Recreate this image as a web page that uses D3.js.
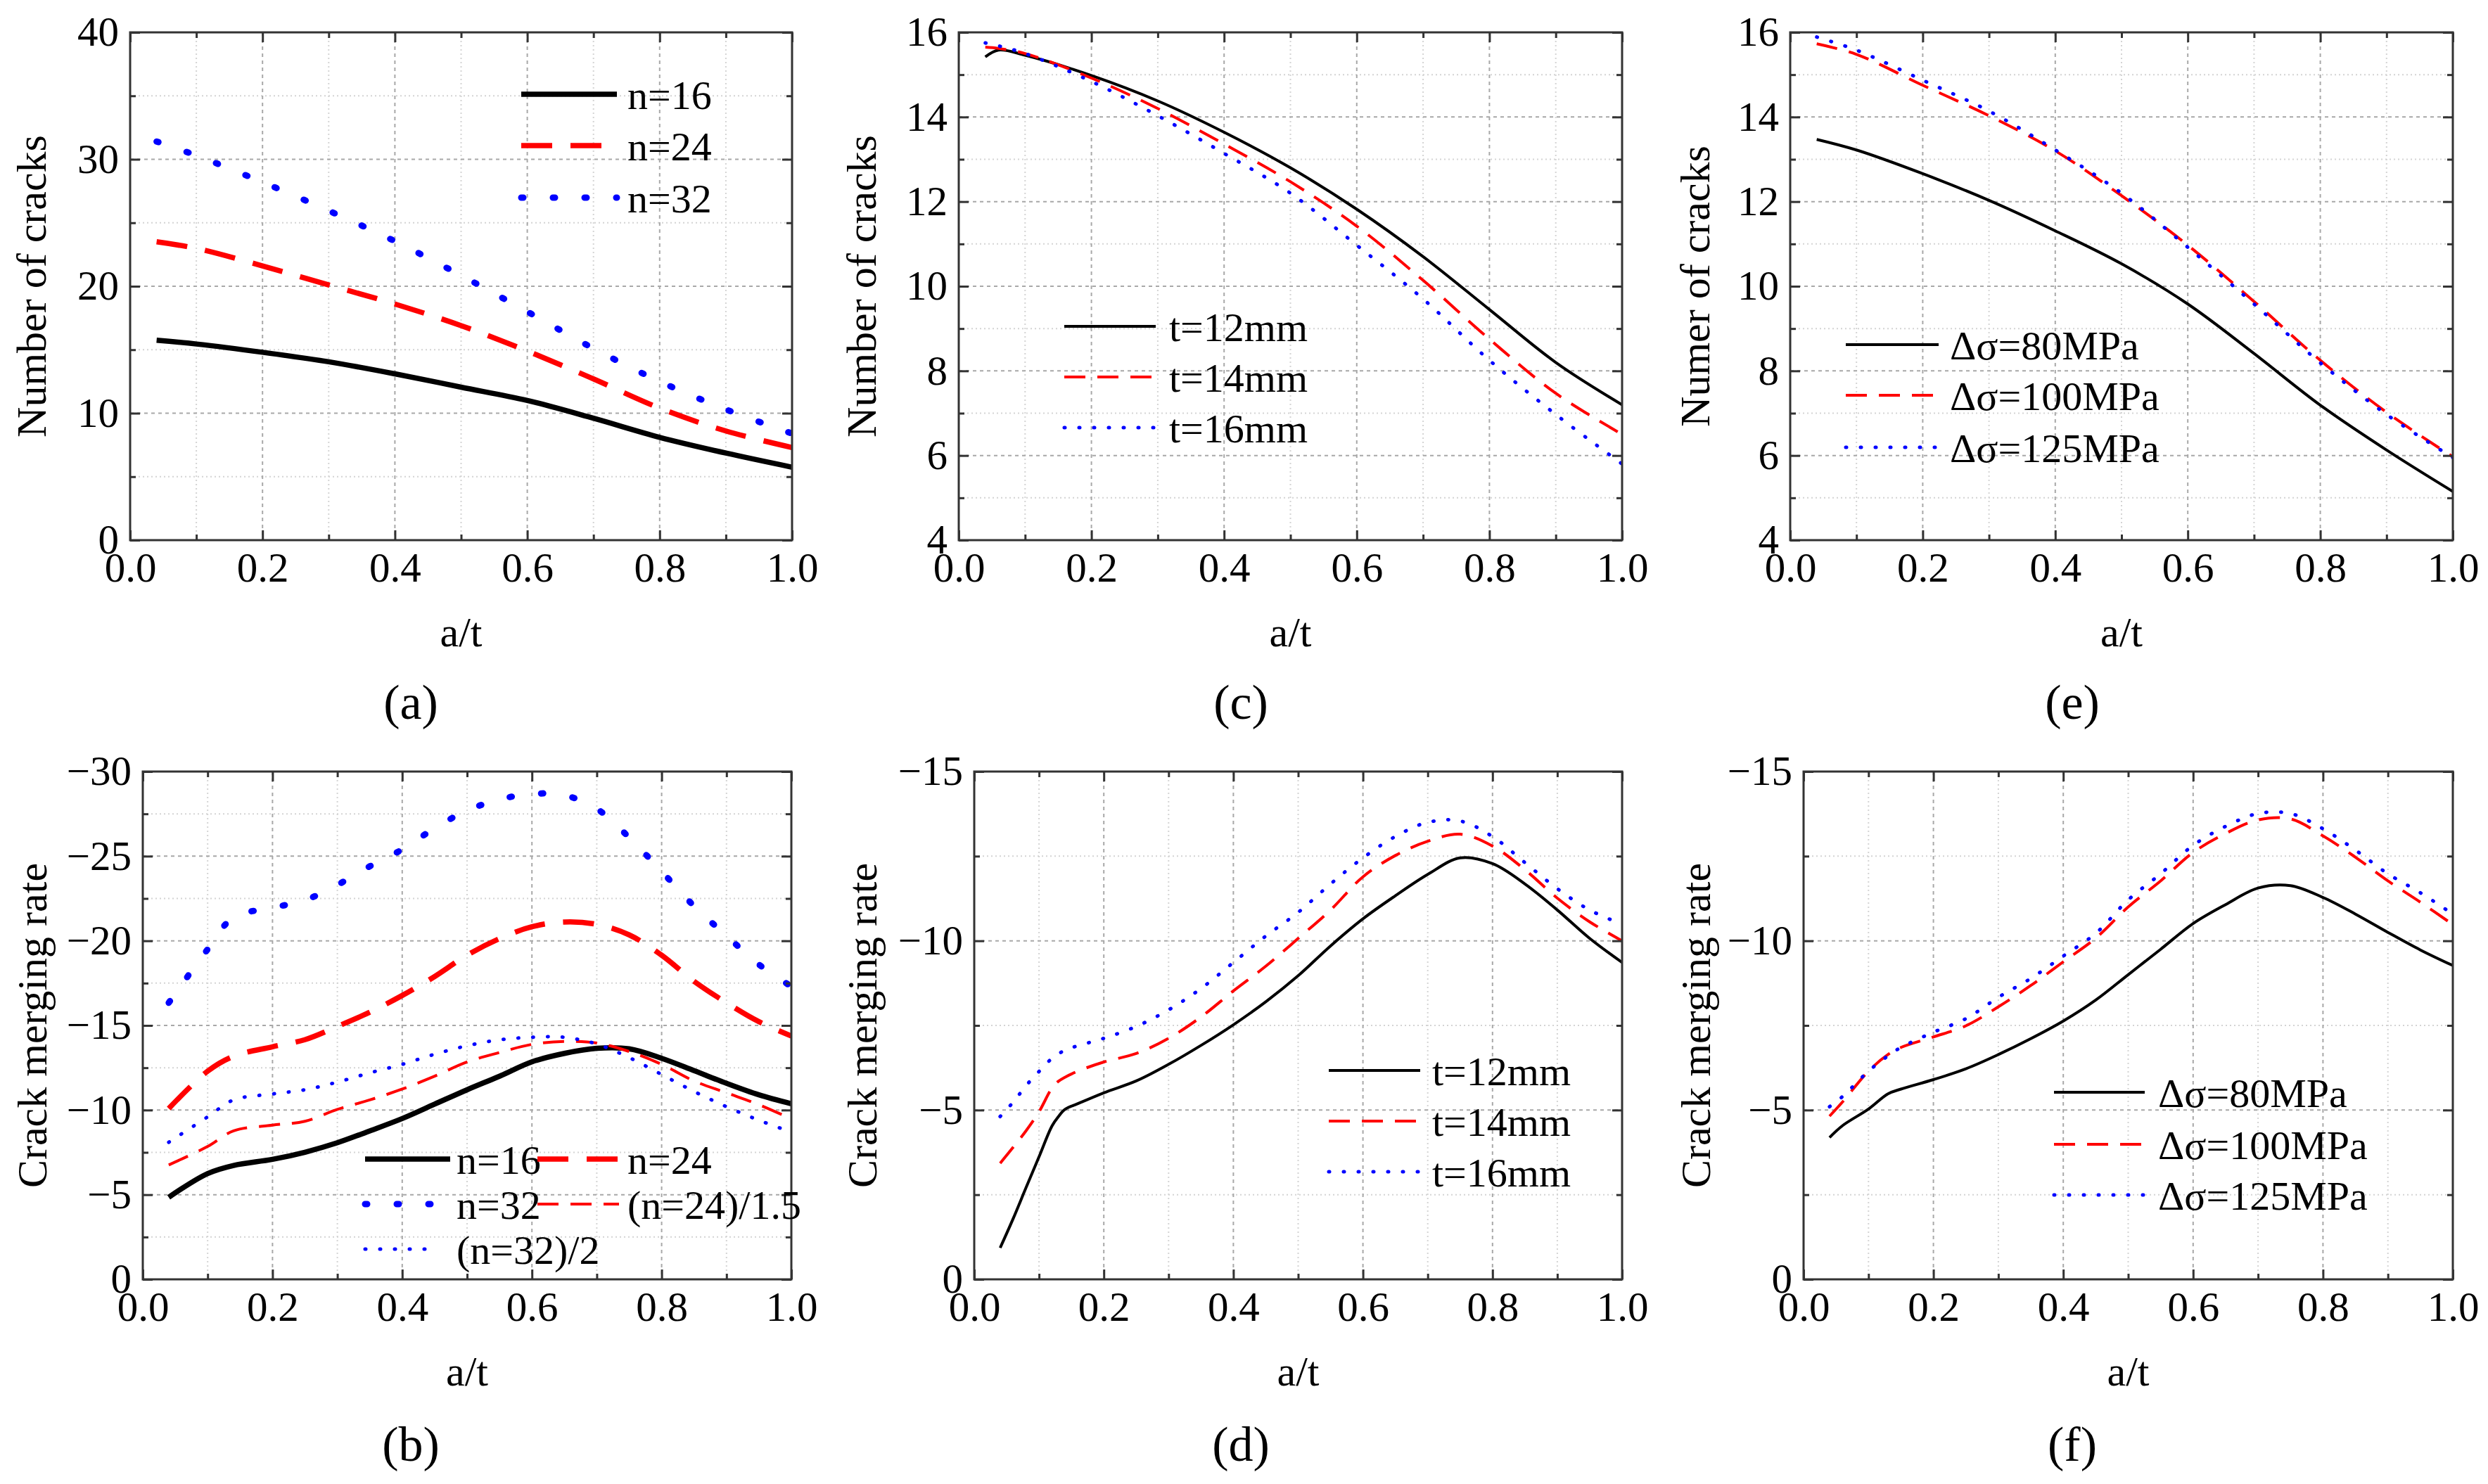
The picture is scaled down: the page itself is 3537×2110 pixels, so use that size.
<!DOCTYPE html>
<html>
<head>
<meta charset="utf-8">
<script src="https://cdn.jsdelivr.net/npm/d3@7"></script>
<style>body{margin:0;background:#fff}</style>
</head>
<body>
<script>
// ---- data ----
// (a) number of cracks vs a/t, different n
const xA = [0.04, 0.1, 0.2, 0.3, 0.4, 0.5, 0.6, 0.7, 0.8, 0.9, 1.0];
const aN16 = [15.75, 15.45, 14.8, 14.05, 13.1, 12.05, 11.0, 9.6, 8.1, 6.86, 5.75];
const aN24 = [23.5, 22.98, 21.6, 20.1, 18.6, 16.9, 14.9, 12.7, 10.4, 8.6, 7.3];
const aN32 = [31.4, 30.3, 28.2, 25.95, 23.55, 20.85, 18.0, 15.1, 12.5, 10.3, 8.4];

// (c) number of cracks, different t
const xC = [0.04, 0.06, 0.1, 0.2, 0.3, 0.4, 0.5, 0.6, 0.7, 0.8, 0.9, 1.0];
const cT12 = [15.42, 15.58, 15.46, 14.98, 14.38, 13.64, 12.8, 11.82, 10.7, 9.45, 8.2, 7.2];
const cT14 = [15.65, 15.62, 15.5, 14.92, 14.2, 13.36, 12.47, 11.42, 10.14, 8.75, 7.47, 6.5];
const cT16 = [15.75, 15.68, 15.5, 14.84, 14.03, 13.14, 12.2, 10.97, 9.7, 8.25, 6.97, 5.8];

// (e) number of cracks, different stress range
const xE = [0.04, 0.1, 0.2, 0.3, 0.4, 0.5, 0.6, 0.7, 0.8, 0.9, 1.0];
const eS80 = [13.47, 13.22, 12.66, 12.03, 11.31, 10.53, 9.58, 8.41, 7.19, 6.13, 5.15];
const eS100 = [15.73, 15.48, 14.75, 14.03, 13.2, 12.14, 10.97, 9.64, 8.25, 7.02, 5.97];
const eS125 = [15.89, 15.58, 14.87, 14.14, 13.22, 12.2, 10.92, 9.58, 8.19, 6.97, 5.95];

// (b) crack merging rate, different n
const xB = [0.04, 0.1, 0.14, 0.2, 0.25, 0.3, 0.35, 0.4, 0.45, 0.5, 0.55, 0.6, 0.65, 0.7, 0.75, 0.8, 0.85, 0.9, 0.95, 1.0];
const bN16 = [-4.85, -6.25, -6.73, -7.09, -7.51, -8.07, -8.77, -9.5, -10.35, -11.2, -12.0, -12.85, -13.35, -13.65, -13.62, -13.06, -12.33, -11.58, -10.9, -10.37];
const bN24 = [-10.09, -12.3, -13.18, -13.74, -14.16, -14.94, -15.78, -16.77, -17.89, -19.15, -20.13, -20.83, -21.11, -20.97, -20.35, -19.15, -17.61, -16.34, -15.22, -14.38];
const bN32 = [-16.34, -19.5, -21.39, -21.95, -22.4, -23.3, -24.4, -25.4, -26.65, -27.7, -28.35, -28.68, -28.6, -27.8, -26.1, -24.1, -22.05, -20.3, -18.6, -17.3];
const bN24s = [-6.76, -7.85, -8.77, -9.11, -9.34, -10.04, -10.6, -11.24, -12.0, -12.84, -13.4, -13.88, -14.05, -13.96, -13.46, -12.7, -11.72, -11.02, -10.32, -9.48];
const bN32s = [-8.1, -9.6, -10.6, -10.95, -11.2, -11.65, -12.2, -12.7, -13.3, -13.8, -14.15, -14.3, -14.3, -13.9, -13.1, -12.1, -11.1, -10.2, -9.4, -8.7];

// (d) crack merging rate, different t
const xD = [0.04, 0.06, 0.08, 0.1, 0.12, 0.13, 0.14, 0.16, 0.2, 0.25, 0.3, 0.35, 0.4, 0.45, 0.5, 0.55, 0.6, 0.65, 0.7, 0.75, 0.8, 0.85, 0.9, 0.95, 1.0];
const dT12 = [-0.93, -1.79, -2.71, -3.62, -4.53, -4.81, -5.02, -5.19, -5.51, -5.86, -6.35, -6.91, -7.52, -8.2, -8.97, -9.85, -10.65, -11.33, -11.96, -12.45, -12.28, -11.68, -10.91, -10.07, -9.36];
const dT14 = [-3.43, -3.9, -4.39, -4.95, -5.65, -5.85, -5.97, -6.15, -6.42, -6.67, -7.12, -7.75, -8.52, -9.25, -10.07, -10.91, -11.89, -12.52, -12.94, -13.15, -12.8, -12.1, -11.26, -10.56, -10.0];
const dT16 = [-4.81, -5.23, -5.72, -6.14, -6.53, -6.66, -6.77, -6.9, -7.12, -7.47, -7.96, -8.59, -9.36, -10.14, -10.84, -11.68, -12.45, -13.08, -13.5, -13.54, -13.08, -12.31, -11.54, -10.91, -10.49];

// (f) crack merging rate, different stress range
const xF = [0.04, 0.06, 0.1, 0.13, 0.15, 0.2, 0.25, 0.3, 0.35, 0.4, 0.45, 0.5, 0.55, 0.6, 0.65, 0.7, 0.75, 0.8, 0.85, 0.9, 0.95, 1.0];
const fS80 = [-4.19, -4.54, -5.03, -5.48, -5.62, -5.9, -6.22, -6.64, -7.11, -7.63, -8.25, -9.0, -9.75, -10.51, -11.07, -11.56, -11.63, -11.28, -10.79, -10.25, -9.73, -9.27];
const fS100 = [-4.82, -5.24, -6.15, -6.64, -6.85, -7.16, -7.49, -8.05, -8.68, -9.38, -10.08, -11.0, -11.77, -12.61, -13.17, -13.57, -13.6, -13.1, -12.47, -11.77, -11.14, -10.48];
const fS125 = [-5.1, -5.4, -6.15, -6.6, -6.85, -7.3, -7.7, -8.33, -8.89, -9.55, -10.22, -11.21, -11.98, -12.82, -13.38, -13.76, -13.76, -13.31, -12.68, -11.98, -11.42, -10.79];

// ticks
const xTicks = [0, 0.2, 0.4, 0.6, 0.8, 1.0];
const xMinor = [0.1, 0.3, 0.5, 0.7, 0.9];

// ---- drawing ----
const W = 3537, H = 2110;
const FONT = "'Liberation Serif','Times New Roman',Times,serif";

const svg = d3.select("body").append("svg")
  .attr("width", W)
  .attr("height", H)
  .style("font-family", FONT);
svg.append("rect").attr("width", W).attr("height", H).attr("fill", "#fff");

// line looks
const look = {
  thickSolid: { c: "#000", w: 7.5, dash: null, cap: "butt" },
  thickDash:  { c: "#ff0000", w: 7.5, dash: "44,26", cap: "butt" },
  thickDot:   { c: "#0000ff", w: 9, dash: "3,42", cap: "round" },
  solid:      { c: "#000", w: 4, dash: null, cap: "butt" },
  dash:       { c: "#ff0000", w: 4, dash: "30,17", cap: "butt" },
  dot:        { c: "#0000ff", w: 5, dash: "1,20", cap: "round" }
};

function styleLine(sel, st) {
  sel.attr("fill", "none")
    .attr("stroke", st.c)
    .attr("stroke-width", st.w)
    .attr("stroke-linecap", st.cap)
    .attr("stroke-dasharray", st.dash);
}

function label(x, y, str, size, anchor, rot) {
  const tr = rot ? `translate(${x},${y}) rotate(-90)` : `translate(${x},${y})`;
  return svg.append("text")
    .attr("transform", tr)
    .attr("text-anchor", anchor || "start")
    .style("font-size", size + "px")
    .text(str);
}

const panels = [
  { id: "a", box: [185, 46, 1126, 768], yDom: [0, 40], yMaj: [0, 10, 20, 30, 40], yMin: [5, 15, 25, 35],
    yLabel: "Number of cracks", yLabelX: 65, tagX: 584, tagY: 1022,
    series: [[xA, aN16, "thickSolid"], [xA, aN24, "thickDash"], [xA, aN32, "thickDot"]],
    legend: [
      { st: "thickSolid", t: "n=16", x1: 741, x2: 877, tx: 892, y: 134 },
      { st: "thickDash", t: "n=24", x1: 741, x2: 877, tx: 892, y: 207 },
      { st: "thickDot", t: "n=32", x1: 741, x2: 877, tx: 892, y: 281 }
    ] },
  { id: "c", box: [1363, 46, 2306, 768], yDom: [4, 16], yMaj: [4, 6, 8, 10, 12, 14, 16], yMin: [5, 7, 9, 11, 13, 15],
    yLabel: "Number of cracks", yLabelX: 1245, tagX: 1764, tagY: 1022,
    series: [[xC, cT12, "solid"], [xC, cT14, "dash"], [xC, cT16, "dot"]],
    legend: [
      { st: "solid", t: "t=12mm", x1: 1513, x2: 1643, tx: 1662, y: 464 },
      { st: "dash", t: "t=14mm", x1: 1513, x2: 1643, tx: 1662, y: 536 },
      { st: "dot", t: "t=16mm", x1: 1513, x2: 1643, tx: 1662, y: 608 }
    ] },
  { id: "e", box: [2545, 46, 3487, 768], yDom: [4, 16], yMaj: [4, 6, 8, 10, 12, 14, 16], yMin: [5, 7, 9, 11, 13, 15],
    yLabel: "Numer of cracks", yLabelX: 2430, tagX: 2946, tagY: 1022,
    series: [[xE, eS80, "solid"], [xE, eS100, "dash"], [xE, eS125, "dot"]],
    legend: [
      { st: "solid", t: "\u0394\u03c3=80MPa", x1: 2624, x2: 2756, tx: 2772, y: 490 },
      { st: "dash", t: "\u0394\u03c3=100MPa", x1: 2624, x2: 2756, tx: 2772, y: 562 },
      { st: "dot", t: "\u0394\u03c3=125MPa", x1: 2624, x2: 2756, tx: 2772, y: 636 }
    ] },
  { id: "b", box: [203, 1097, 1125, 1819], yDom: [0, -30], yMaj: [0, -5, -10, -15, -20, -25, -30], yMin: [-2.5, -7.5, -12.5, -17.5, -22.5, -27.5],
    yLabel: "Crack merging rate", yLabelX: 66, tagX: 584, tagY: 2077,
    series: [[xB, bN16, "thickSolid"], [xB, bN24, "thickDash"], [xB, bN32, "thickDot"], [xB, bN24s, "dash"], [xB, bN32s, "dot"]],
    legend: [
      { st: "thickSolid", t: "n=16", x1: 519, x2: 640, tx: 649, y: 1648 },
      { st: "thickDash", t: "n=24", x1: 764, x2: 880, tx: 892, y: 1648 },
      { st: "thickDot", t: "n=32", x1: 519, x2: 632, tx: 649, y: 1712 },
      { st: "dash", t: "(n=24)/1.5", x1: 764, x2: 880, tx: 892, y: 1712 },
      { st: "dot", t: "(n=32)/2", x1: 519, x2: 614, tx: 649, y: 1776 }
    ] },
  { id: "d", box: [1385, 1097, 2306, 1819], yDom: [0, -15], yMaj: [0, -5, -10, -15], yMin: [-2.5, -7.5, -12.5],
    yLabel: "Crack merging rate", yLabelX: 1246, tagX: 1764, tagY: 2077,
    series: [[xD, dT12, "solid"], [xD, dT14, "dash"], [xD, dT16, "dot"]],
    legend: [
      { st: "solid", t: "t=12mm", x1: 1889, x2: 2019, tx: 2036, y: 1522 },
      { st: "dash", t: "t=14mm", x1: 1889, x2: 2019, tx: 2036, y: 1594 },
      { st: "dot", t: "t=16mm", x1: 1889, x2: 2019, tx: 2036, y: 1666 }
    ] },
  { id: "f", box: [2564, 1097, 3487, 1819], yDom: [0, -15], yMaj: [0, -5, -10, -15], yMin: [-2.5, -7.5, -12.5],
    yLabel: "Crack merging rate", yLabelX: 2431, tagX: 2946, tagY: 2077,
    series: [[xF, fS80, "solid"], [xF, fS100, "dash"], [xF, fS125, "dot"]],
    legend: [
      { st: "solid", t: "\u0394\u03c3=80MPa", x1: 2920, x2: 3049, tx: 3068, y: 1553 },
      { st: "dash", t: "\u0394\u03c3=100MPa", x1: 2920, x2: 3049, tx: 3068, y: 1627 },
      { st: "dot", t: "\u0394\u03c3=125MPa", x1: 2920, x2: 3049, tx: 3068, y: 1699 }
    ] }
];

panels.forEach(p => {
  const [x0, y0, x1, y1] = p.box;
  const w = x1 - x0, h = y1 - y0;
  const x = d3.scaleLinear().domain([0, 1]).range([0, w]);
  const y = d3.scaleLinear().domain(p.yDom).range([h, 0]);
  const g = svg.append("g").attr("transform", `translate(${x0},${y0})`);

  // grid: minor first, then major
  const grid = g.append("g");
  grid.selectAll(".gxm").data(xMinor).enter().append("line")
    .attr("x1", d => x(d)).attr("x2", d => x(d)).attr("y1", 0).attr("y2", h)
    .attr("stroke", "#d4d4d4").attr("stroke-width", 2).attr("stroke-dasharray", "2,4");
  grid.selectAll(".gym").data(p.yMin).enter().append("line")
    .attr("x1", 0).attr("x2", w).attr("y1", d => y(d)).attr("y2", d => y(d))
    .attr("stroke", "#d4d4d4").attr("stroke-width", 2).attr("stroke-dasharray", "2,4");
  grid.selectAll(".gx").data(xTicks.slice(1, -1)).enter().append("line")
    .attr("x1", d => x(d)).attr("x2", d => x(d)).attr("y1", 0).attr("y2", h)
    .attr("stroke", "#a8a8a8").attr("stroke-width", 2).attr("stroke-dasharray", "5,5");
  grid.selectAll(".gy").data(p.yMaj.slice(1, -1)).enter().append("line")
    .attr("x1", 0).attr("x2", w).attr("y1", d => y(d)).attr("y2", d => y(d))
    .attr("stroke", "#a8a8a8").attr("stroke-width", 2).attr("stroke-dasharray", "5,5");

  // data lines
  const clipId = "clip-" + p.id;
  g.append("clipPath").attr("id", clipId).append("rect").attr("width", w).attr("height", h);
  const line = d3.line().x(d => x(d[0])).y(d => y(d[1])).curve(d3.curveCatmullRom.alpha(0.5));
  const lines = g.append("g").attr("clip-path", `url(#${clipId})`);
  p.series.forEach(s => {
    const pts = s[0].map((v, i) => [v, s[1][i]]);
    lines.append("path").attr("d", line(pts)).call(styleLine, look[s[2]]);
  });

  // axes with inward ticks
  g.append("g").attr("transform", `translate(0,${h})`)
    .call(d3.axisBottom(x).tickValues(xTicks).tickFormat(d3.format(".1f"))
      .tickSizeInner(-14).tickSizeOuter(0).tickPadding(17));
  g.append("g")
    .call(d3.axisLeft(y).tickValues(p.yMaj).tickFormat(d3.format("d"))
      .tickSizeInner(-14).tickSizeOuter(0).tickPadding(16));
  g.append("g")
    .call(d3.axisTop(x).tickValues(xTicks).tickFormat("").tickSizeInner(-14).tickSizeOuter(0));
  g.append("g").attr("transform", `translate(${w},0)`)
    .call(d3.axisRight(y).tickValues(p.yMaj).tickFormat("").tickSizeInner(-14).tickSizeOuter(0));
  // minor ticks
  g.append("g").attr("transform", `translate(0,${h})`)
    .call(d3.axisBottom(x).tickValues(xMinor).tickFormat("").tickSizeInner(-8).tickSizeOuter(0));
  g.append("g")
    .call(d3.axisTop(x).tickValues(xMinor).tickFormat("").tickSizeInner(-8).tickSizeOuter(0));
  g.append("g")
    .call(d3.axisLeft(y).tickValues(p.yMin).tickFormat("").tickSizeInner(-8).tickSizeOuter(0));
  g.append("g").attr("transform", `translate(${w},0)`)
    .call(d3.axisRight(y).tickValues(p.yMin).tickFormat("").tickSizeInner(-8).tickSizeOuter(0));

  g.selectAll(".domain").remove();
  g.selectAll(".tick line").attr("stroke", "#333").attr("stroke-width", 3);
  g.selectAll(".tick text")
    .attr("fill", "#000")
    .style("font-family", FONT)
    .style("font-size", "59px");

  // frame
  g.append("rect").attr("width", w).attr("height", h)
    .attr("fill", "none").attr("stroke", "#333").attr("stroke-width", 3);

  // axis titles and panel tag
  label(p.yLabelX, y0 + h / 2, p.yLabel, 60, "middle", true);
  label(x0 + w / 2, y1 + 151, "a/t", 60, "middle");
  label(p.tagX, p.tagY, "(" + p.id + ")", 70, "middle");

  // legend
  p.legend.forEach(it => {
    svg.append("line")
      .attr("x1", it.x1).attr("x2", it.x2).attr("y1", it.y).attr("y2", it.y)
      .call(styleLine, look[it.st]);
    label(it.tx, it.y + 21, it.t, 58, "start");
  });
});
</script>
</body>
</html>
